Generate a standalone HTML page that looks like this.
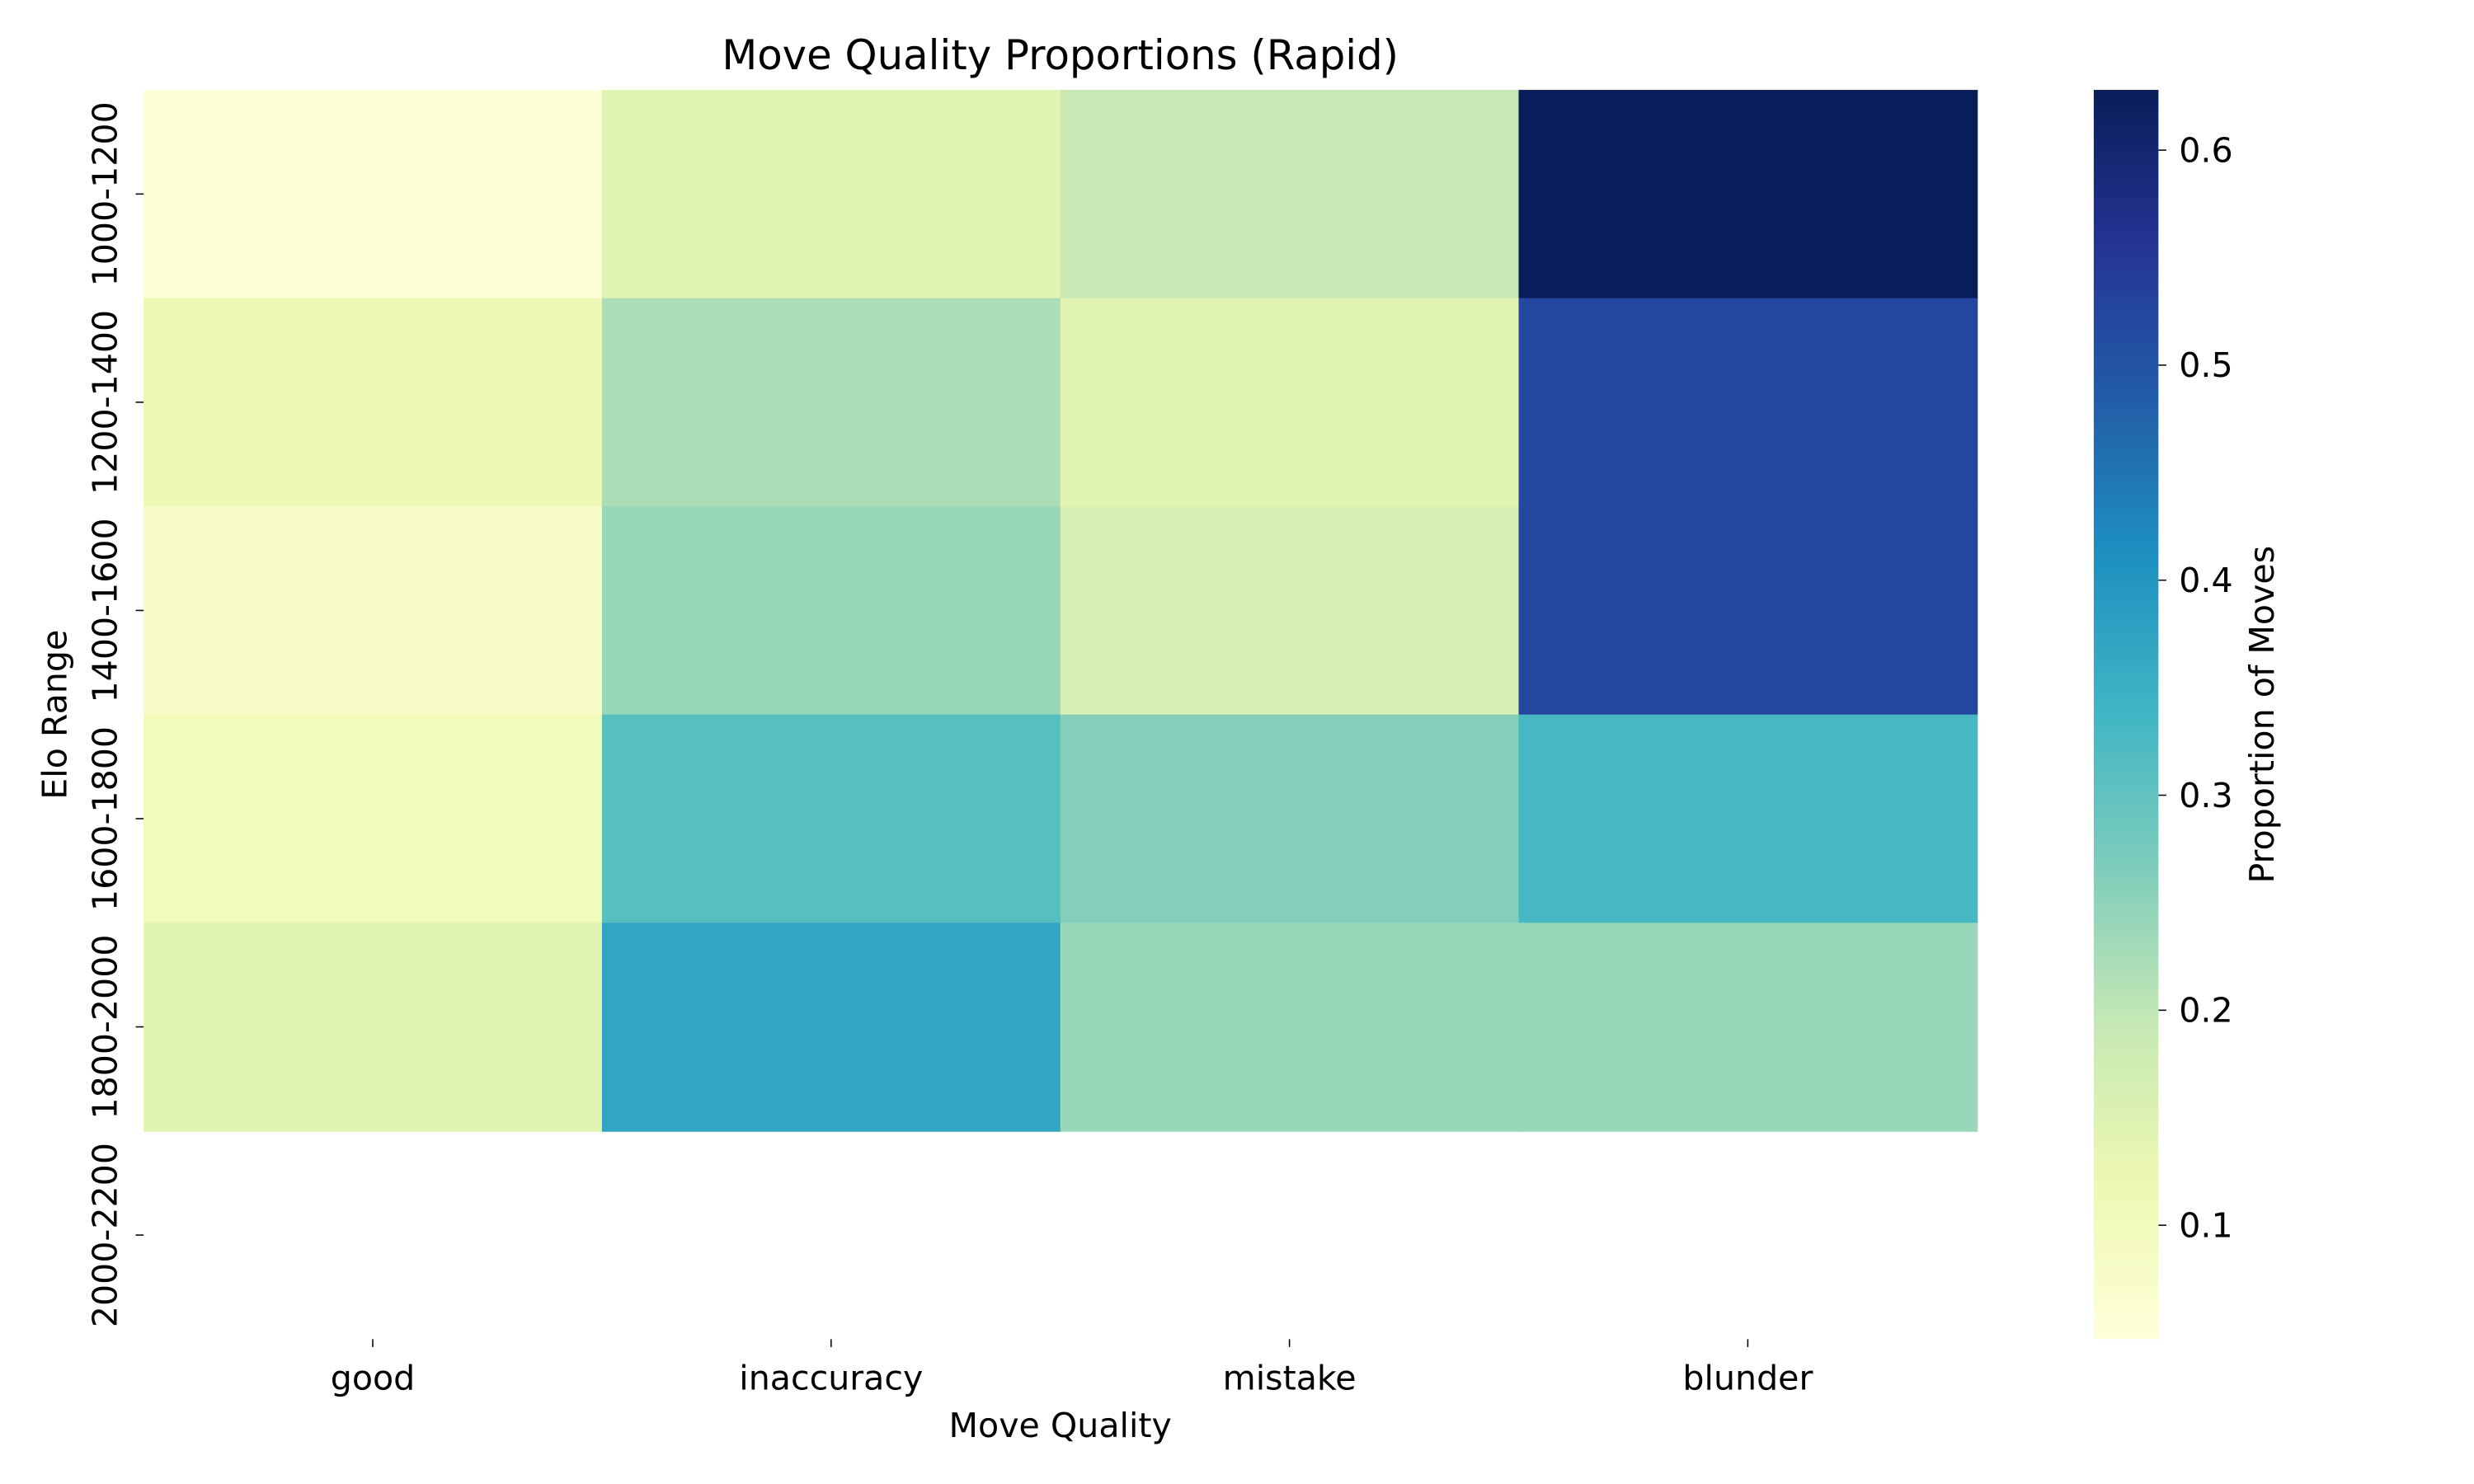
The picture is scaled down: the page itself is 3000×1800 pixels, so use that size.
<!DOCTYPE html>
<html><head><meta charset="utf-8"><style>
html,body{margin:0;padding:0;background:#fff;}
svg{display:block;font-family:"DejaVu Sans","Liberation Sans",sans-serif;}
</style></head><body>
<svg id="chart" width="3000" height="1800" viewBox="0 0 1568 940.8" xmlns="http://www.w3.org/2000/svg">
<defs><linearGradient id="cbg" x1="0" y1="1" x2="0" y2="0">
<stop offset="0" stop-color="#ffffd9"/><stop offset="0.125" stop-color="#edf8b1"/><stop offset="0.25" stop-color="#c7e9b4"/><stop offset="0.375" stop-color="#7fcdbb"/><stop offset="0.5" stop-color="#41b6c4"/><stop offset="0.625" stop-color="#1d91c0"/><stop offset="0.75" stop-color="#225ea8"/><stop offset="0.875" stop-color="#253494"/><stop offset="1" stop-color="#081d58"/>
</linearGradient></defs>
<text x="672" y="44" font-size="26" text-anchor="middle">Move Quality Proportions (Rapid)</text>
<g id="cells"></g><g id="xt"></g><g id="yt"></g><g id="cbt"></g>
<text x="672" y="911" font-size="21.5" text-anchor="middle">Move Quality</text>
<text transform="translate(42,453) rotate(-90)" font-size="21.5" text-anchor="middle">Elo Range</text>
<rect x="1327" y="57" width="41" height="792" fill="url(#cbg)"/>
<text transform="translate(1441,453) rotate(-90)" font-size="21.5" text-anchor="middle">Proportion of Moves</text>
</svg>
<script>
const categories = ["good","inaccuracy","mistake","blunder"];
const ranges = ["1000-1200","1200-1400","1400-1600","1600-1800","1800-2000","2000-2200"];
const goodVals = [0.05,0.11,0.08,0.10,0.14,null];
const inaccuracyVals = [0.14,0.22,0.24,0.31,0.37,null];
const mistakeVals = [0.19,0.14,0.16,0.26,0.24,null];
const blunderVals = [0.627,0.52,0.52,0.33,0.24,null];
const cbTicks = [0.1,0.2,0.3,0.4,0.5,0.6];
const vmin = 0.047, vmax = 0.628;

const series=[goodVals,inaccuracyVals,mistakeVals,blunderVals];
const L=91,R=1253,T=57,B=849;
const cw=(R-L)/categories.length, rh=(B-T)/ranges.length;
const xPos=i=>L+i*cw, yPos=j=>T+j*rh;
const cbY=v=>B-(v-vmin)/(vmax-vmin)*(B-T);
const stops=["#ffffd9","#edf8b1","#c7e9b4","#7fcdbb","#41b6c4","#1d91c0","#225ea8","#253494","#081d58"];
function hex(h){return [1,3,5].map(k=>parseInt(h.substr(k,2),16));}
function color(v){let t=Math.max(0,Math.min(1,(v-vmin)/(vmax-vmin)))*8;let i=Math.min(7,Math.floor(t)),f=t-i;
 const a=hex(stops[i]),b=hex(stops[i+1]);return "rgb("+a.map((x,k)=>Math.round(x+(b[k]-x)*f)).join(",")+")";}
const NS="http://www.w3.org/2000/svg";
function mk(tag,attrs,parent,txt){const e=document.createElementNS(NS,tag);for(const k in attrs)e.setAttribute(k,attrs[k]);if(txt!==undefined)e.textContent=txt;document.getElementById(parent).appendChild(e);return e;}
series.forEach((s,i)=>s.forEach((v,j)=>{if(v===null)return;
 const r=mk("rect",{x:xPos(i),y:yPos(j),width:cw+0.5,height:rh+0.5,fill:color(v)},"cells");
 
 }));
categories.forEach((c,i)=>{const x=xPos(i)+cw/2;
 const l=mk("line",{x1:x,x2:x,y1:B,y2:B+5,stroke:"#000","stroke-width":0.8},"xt");
 
 
 const t=mk("text",{x:x,y:881,"font-size":21.5,"text-anchor":"middle"},"xt",c);
 
 });
ranges.forEach((r,j)=>{const y=yPos(j)+rh/2;
 const l=mk("line",{x1:L-5,x2:L,y1:y,y2:y,stroke:"#000","stroke-width":0.8},"yt");
 
 
 const t=mk("text",{transform:"translate(74,"+y+") rotate(-90)","font-size":21.5,"text-anchor":"middle"},"yt",r);
 
 });
cbTicks.forEach(v=>{const y=cbY(v);
 const l=mk("line",{x1:1368,x2:1373,y1:y,y2:y,stroke:"#000","stroke-width":0.8},"cbt");
 
 
 const t=mk("text",{x:1381,y:y+7.5,"font-size":21.5},"cbt",v.toFixed(1));
 
 });
</script>
</body></html>
